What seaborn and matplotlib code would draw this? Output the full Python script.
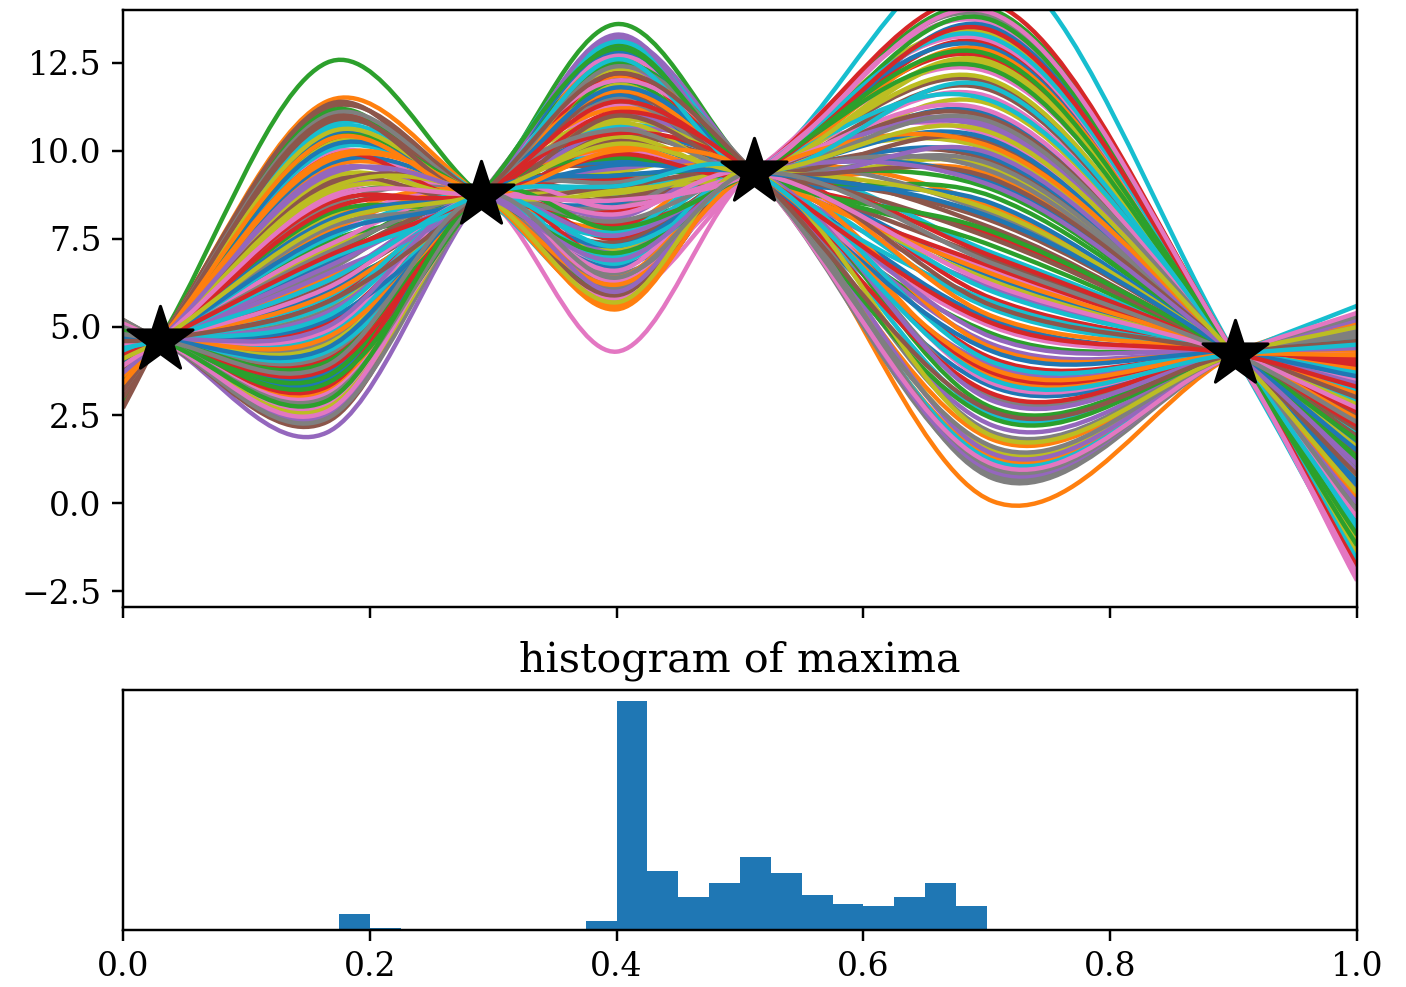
import numpy as np
import pandas as pd
import matplotlib
matplotlib.use("Agg")
import matplotlib.pyplot as plt
from matplotlib.path import Path
from matplotlib.patches import PathPatch
import seaborn as sns

# ---------------- data ----------------
# observed points (black stars)
star_x = [0.030, 0.290, 0.511, 0.901]
star_y = [4.63, 8.75, 9.40, 4.23]

# x positions where each sample curve's free values were read
edge_left_x = 0.0
lobe_x = [0.165, 0.400, 0.705]
edge_right_x = 1.0

# value of each sample curve at x=0, at the three lobes, and at x=1
y_left = [4.2, 3.8, 2.9, 4.8, 5.1, 4.0, 4.3, 4.5, 3.5, 4.9,
          4.6, 3.1, 4.4, 5.0, 3.9, 5.2, 3.6, 4.7, 4.2, 3.4,
          4.8, 4.3, 4.0, 4.5, 3.3, 5.1, 4.1, 4.7, 3.8, 4.5,
          3.5, 4.9, 4.3, 4.5, 3.8, 2.7, 5.0, 4.3, 4.0, 4.6,
          3.7, 4.8, 4.2, 3.3, 5.1, 4.4, 3.9, 4.8, 4.5, 3.6,
          4.9, 4.1, 3.2, 4.6, 3.8, 4.2, 5.0, 4.0, 4.7, 3.5,
          4.4, 4.0, 4.8, 3.6, 4.6, 3.0, 4.2, 5.2, 3.9, 4.7,
          3.6, 4.4, 4.0, 4.9, 4.3, 3.8, 4.6, 3.2, 5.1, 4.2,
          4.6, 3.7, 4.8, 3.9, 4.4, 3.4, 5.0, 4.3, 3.7, 4.5,
          4.0, 4.7, 3.5, 4.9, 4.3, 3.8, 5.1, 4.4, 3.3, 4.6,
          4.2, 3.6, 4.8, 4.1, 4.6, 3.2, 4.5, 5.0, 3.9, 4.3,
          4.7, 3.4, 4.9, 4.2, 3.7, 4.6, 3.9, 4.8, 4.1, 4.4]
y_lobe1 = [6.8, 9.5, 12.5, 4.1, 2.0, 8.3, 7.6, 5.5, 10.2, 3.4,
           5.0, 11.4, 6.1, 3.0, 8.9, 2.3, 9.9, 4.6, 7.2, 10.7,
           3.7, 6.4, 8.6, 5.3, 11.0, 2.6, 7.9, 4.4, 9.3, 5.8,
           10.4, 3.2, 7.0, 5.7, 9.0, 11.2, 2.8, 6.6, 8.1, 4.8,
           9.6, 3.9, 7.4, 10.9, 2.5, 6.2, 8.7, 4.2, 5.6, 10.0,
           3.5, 7.7, 11.1, 5.1, 9.4, 6.9, 2.9, 8.4, 4.5, 10.6,
           6.0, 8.0, 3.6, 9.8, 5.4, 11.3, 7.3, 2.4, 8.8, 4.3,
           10.1, 5.9, 8.2, 3.3, 6.7, 9.1, 4.9, 11.0, 2.7, 7.5,
           5.2, 9.7, 4.0, 8.5, 6.3, 10.8, 3.1, 7.1, 9.2, 5.6,
           8.0, 4.7, 10.3, 3.8, 6.5, 9.0, 2.6, 7.8, 10.5, 5.3,
           7.6, 9.8, 3.4, 8.3, 5.0, 10.9, 6.1, 3.0, 8.9, 6.9,
           4.4, 10.3, 2.9, 7.0, 9.3, 5.7, 8.6, 3.9, 7.9, 6.3]
y_lobe2 = [10.5, 7.8, 6.3, 11.8, 12.4, 9.0, 4.3, 8.2, 7.0, 9.9,
           12.8, 6.0, 13.6, 7.5, 10.9, 8.7, 11.3, 6.5, 9.4, 5.7,
           10.2, 12.1, 8.0, 5.6, 13.2, 9.6, 6.8, 11.5, 7.2, 10.7,
           8.5, 12.6, 5.9, 9.2, 11.0, 7.4, 10.0, 6.2, 12.3, 8.8,
           6.7, 11.2, 13.0, 8.3, 7.1, 10.4, 5.8, 9.1, 11.9, 7.6,
           9.7, 6.4, 12.0, 7.9, 10.6, 8.6, 12.7, 6.1, 10.8, 7.7,
           11.6, 5.5, 9.3, 12.2, 8.1, 10.3, 6.6, 11.4, 8.9, 13.1,
           7.3, 10.1, 12.5, 6.9, 9.5, 11.7, 6.3, 8.4, 10.9, 7.0,
           12.9, 5.6, 9.8, 11.1, 7.6, 9.0, 12.0, 8.0, 10.4, 6.8,
           9.6, 11.7, 7.1, 10.5, 13.3, 5.9, 8.4, 12.4, 8.8, 7.3,
           11.8, 6.2, 12.9, 9.9, 6.0, 11.0, 8.2, 10.6, 5.7, 12.6,
           9.3, 10.0, 7.8, 11.4, 6.9, 12.2, 8.6, 6.4, 10.2, 9.0]
y_lobe3 = [5.2, 0.05, 9.0, 7.6, 6.1, 11.9, 10.4, 0.7, 13.3, 15.5,
           3.3, 8.4, 4.8, 12.6, 2.2, 9.7, 6.6, 13.8, 1.5, 7.1,
           11.0, 1.3, 14.0, 5.8, 3.9, 8.0, 12.2, 0.8, 10.0, 1.2,
           6.4, 9.3, 2.7, 13.0, 4.5, 7.8, 11.5, 3.0, 9.5, 5.5,
           12.9, 1.8, 8.7, 4.1, 10.7, 6.9, 13.6, 2.0, 11.3, 6.0,
           9.8, 3.6, 7.3, 14.2, 0.9, 10.9, 5.0, 8.2, 12.4, 2.5,
           13.5, 4.4, 8.9, 6.7, 1.4, 11.7, 3.4, 9.6, 12.0, 5.7,
           9.1, 12.8, 2.4, 7.0, 4.7, 10.2, 13.1, 1.0, 6.3, 11.4,
           8.5, 5.3, 13.7, 3.1, 10.6, 7.5, 1.1, 9.4, 12.5, 4.0,
           10.3, 6.5, 12.3, 3.7, 9.9, 5.6, 11.1, 1.6, 8.3, 13.2,
           4.3, 10.1, 7.7, 13.4, 2.9, 9.2, 6.2, 10.8, 1.9, 11.8,
           8.1, 3.8, 12.7, 5.1, 9.0, 2.6, 13.9, 6.8, 10.5, 3.5]
y_right = [4.0, 5.3, 1.2, 1.8, 2.6, -0.5, 0.4, 5.0, -1.4, -2.0,
           4.6, 1.5, 3.6, -1.0, 4.8, 0.9, 2.3, -1.7, 5.2, 2.0,
           0.2, 4.9, -1.9, 3.0, 4.3, 1.4, -2.2, 4.7, 0.0, 5.6,
           2.4, 1.0, 4.4, -1.2, 3.7, 2.1, -0.3, 4.1, 0.7, 3.3,
           -0.8, 5.1, 1.3, 3.9, 0.1, 2.5, -2.1, 4.9, -0.6, 2.9,
           0.6, 4.3, 1.9, -1.6, 5.0, -0.1, 3.5, 1.6, -1.1, 4.6,
           -1.5, 3.8, 1.1, 2.6, 5.2, -0.4, 4.2, 0.8, -0.9, 3.2,
           0.5, -1.3, 4.5, 2.2, 3.4, 0.3, -1.8, 5.3, 2.8, -0.7,
           1.7, 3.1, -1.9, 4.0, 0.0, 1.9, 5.4, 1.0, -1.4, 3.7,
           0.6, 2.4, -0.9, 4.1, 0.9, 3.0, -0.4, 4.8, 1.6, -1.6,
           3.6, 0.2, 1.8, -1.8, 4.4, 0.8, 2.7, -0.2, 5.0, -0.6,
           1.5, 4.2, -1.2, 3.3, 1.1, 4.6, -2.0, 2.3, 0.3, 4.5]

# histogram of maxima (bins of width 0.025)
hist_bin_left = [0.175, 0.200, 0.375, 0.400, 0.425, 0.450, 0.475, 0.500,
                 0.525, 0.550, 0.575, 0.600, 0.625, 0.650, 0.675]
hist_count = [7, 1, 4, 97, 25, 14, 20, 31, 24, 15, 11, 10, 14, 20, 10]
hist_bin_width = 0.025

# ---------------- style ----------------
plt.rcParams["font.family"] = ["DejaVu Serif"]
plt.rcParams["axes.linewidth"] = 0.8
plt.rcParams["xtick.labelsize"] = 10.8
plt.rcParams["ytick.labelsize"] = 10.8
plt.rcParams["axes.titlesize"] = 13.5

DPI = 220
fig = plt.figure(figsize=(1406 / DPI, 987 / DPI), dpi=DPI)
W, H = 1406, 987
ax_top = fig.add_axes([123 / W, 1 - 607 / H, 1234 / W, 597 / H])
ax_bot = fig.add_axes([123 / W, 1 - 930 / H, 1234 / W, 240 / H])

palette = sns.color_palette("tab10")


def smooth_path(xs, ys):
    """Smooth (Catmull-Rom style cubic Bezier) path through the knots."""
    xs = np.asarray(xs, float)
    ys = np.asarray(ys, float)
    n = len(xs)
    m = np.empty(n)
    m[1:-1] = (ys[2:] - ys[:-2]) / (xs[2:] - xs[:-2])
    m[0] = (ys[1] - ys[0]) / (xs[1] - xs[0])
    m[-1] = (ys[-1] - ys[-2]) / (xs[-1] - xs[-2])
    verts = [(xs[0], ys[0])]
    codes = [Path.MOVETO]
    for i in range(n - 1):
        h = xs[i + 1] - xs[i]
        verts += [(xs[i] + h / 3, ys[i] + m[i] * h / 3),
                  (xs[i + 1] - h / 3, ys[i + 1] - m[i + 1] * h / 3),
                  (xs[i + 1], ys[i + 1])]
        codes += [Path.CURVE4] * 3
    return Path(verts, codes)


knot_x = [edge_left_x, star_x[0], lobe_x[0], star_x[1], lobe_x[1],
          star_x[2], lobe_x[2], star_x[3], edge_right_x]
for i in range(len(y_left)):
    knot_y = [y_left[i], star_y[0], y_lobe1[i], star_y[1], y_lobe2[i],
              star_y[2], y_lobe3[i], star_y[3], y_right[i]]
    patch = PathPatch(smooth_path(knot_x, knot_y), fill=False,
                      edgecolor=palette[i % 10], linewidth=1.45,
                      transform=ax_top.transData)
    ax_top.add_patch(patch)

sns.scatterplot(x=star_x, y=star_y, marker="*", s=500, color="black",
                edgecolor="black", linewidth=1.0, zorder=5, ax=ax_top,
                legend=False)

ax_top.set_xlim(0, 1)
ax_top.set_ylim(-2.95, 14.0)
ax_top.set_xticks([0.0, 0.2, 0.4, 0.6, 0.8, 1.0])
ax_top.set_yticks([-2.5, 0.0, 2.5, 5.0, 7.5, 10.0, 12.5])
ax_top.tick_params(labelbottom=False)
ax_top.set_xlabel("")
ax_top.set_ylabel("")

# ---------------- histogram ----------------
hist_df = pd.DataFrame({
    "center": np.asarray(hist_bin_left) + hist_bin_width / 2,
    "count": hist_count,
})
sns.histplot(data=hist_df, x="center", weights="count",
             binwidth=hist_bin_width, binrange=(0.0, 1.0),
             color="#1f77b4", alpha=1.0, edgecolor="none", linewidth=0,
             ax=ax_bot)
ax_bot.set_xlim(0, 1)
ax_bot.set_xticks([0.0, 0.2, 0.4, 0.6, 0.8, 1.0])
ax_bot.set_yticks([])
ax_bot.set_xlabel("")
ax_bot.set_ylabel("")
ax_bot.set_title("histogram of maxima")

fig.savefig("out.png", dpi=DPI)
